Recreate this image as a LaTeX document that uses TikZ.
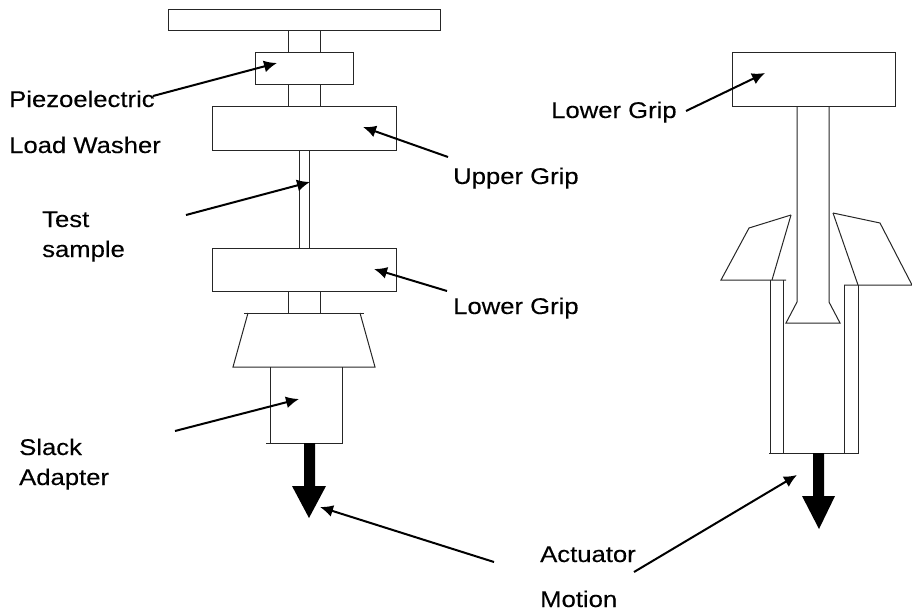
\documentclass[tikz,border=0pt]{standalone}
\usepackage{fontspec}
\usetikzlibrary{arrows.meta}
\setmainfont[FakeStretch=1.13,FakeBold=0.25]{Liberation Sans}
\begin{document}
\begin{tikzpicture}[x=1pt,y=-1pt,
  part/.style={draw=black!85,line width=1pt,inner sep=0pt,outer sep=0pt,fill=white},
  outline/.style={draw=black!85,line width=1pt,line join=miter},
  pointer/.style={draw=black,line width=2pt,-{Latex[length=13pt,width=12pt]},shorten >=0pt},
  motion/.style={fill=black,draw=none},
  lbl/.style={anchor=base west,inner sep=0pt,font=\fontsize{22.7}{26}\selectfont}]
\useasboundingbox (0,0) rectangle (912,615);
% left assembly
\node[part,minimum width=32pt,minimum height=22pt] (neckA) at (304,42) {};
\node[part,minimum width=32pt,minimum height=22pt] (neckB) at (304,96) {};
\node[part,minimum width=32pt,minimum height=22pt] (neckC) at (304,302) {};
\node[part,minimum width=10pt,minimum height=98pt] (sample) at (304,199) {};
\node[part,minimum width=272pt,minimum height=21pt] (plate) at (304,20.5) {};
\node[part,minimum width=98pt,minimum height=32pt] (washer) at (304,69) {};
\node[part,minimum width=184pt,minimum height=43pt] (ugrip) at (304,128.5) {};
\node[part,minimum width=184pt,minimum height=43pt] (lgrip) at (304,269.5) {};
\draw[outline] (244,313) -- (364,313);
\draw[outline] (248,313) -- (233,367) -- (375,367) -- (360,313);
\draw[outline] (270,367) -- (270,443);
\draw[outline] (342,367) -- (342,443) -- (266,443);
\fill[motion] (304,443) -- (315,443) -- (315,486) -- (326,486) -- (309,518) -- (292,486) -- (304,486) -- cycle;
% right assembly
\node[part,minimum width=163pt,minimum height=54pt] (rgrip) at (813.5,80) {};
\draw[outline] (797,107) -- (797,302) -- (786,323) -- (840,323) -- (829,302) -- (829,107);
\draw[outline] (791,215) -- (749,228) -- (721,280) -- (786,280);
\draw[outline] (791,215) -- (772,280);
\draw[outline] (833,213) -- (880,223) -- (912,285) -- (844,285);
\draw[outline] (833,213) -- (858,285);
\draw[outline] (770,280) -- (770,453);
\draw[outline] (783,280) -- (783,453);
\draw[outline] (844,285) -- (844,453);
\draw[outline] (858,285) -- (858,453);
\draw[outline] (769,453) -- (859,453);
\fill[motion] (813,453) -- (824,453) -- (824,496) -- (835,496) -- (819,529) -- (802,496) -- (813,496) -- cycle;
% labels
\node[lbl] (piezo) at (9,107) {Piezoelectric};
\node[lbl] (washerlbl) at (9,153) {Load Washer};
\node[lbl] (testlbl) at (42,227) {Test};
\node[lbl] (samplelbl) at (42,257) {sample};
\node[lbl] (uplbl) at (453,184) {Upper Grip};
\node[lbl] (lowlbl) at (453,314) {Lower Grip};
\node[lbl] (slacklbl) at (19,455) {Slack};
\node[lbl] (adapterlbl) at (19,485) {Adapter};
\node[lbl] (actlbl) at (540,562) {Actuator};
\node[lbl] (motlbl) at (540,607) {Motion};
\node[lbl] (rlowlbl) at (551,118) {Lower Grip};
% pointers
\coordinate (p1a) at (153,96);   \coordinate (p1b) at (277,63);
\coordinate (p2a) at (448,157);  \coordinate (p2b) at (363,127);
\coordinate (p3a) at (186,215);  \coordinate (p3b) at (310,182);
\coordinate (p4a) at (447,291);  \coordinate (p4b) at (374,269);
\coordinate (p5a) at (175,431);  \coordinate (p5b) at (299,399);
\coordinate (p6a) at (494,562);  \coordinate (p6b) at (320,507);
\coordinate (p7a) at (634,572);  \coordinate (p7b) at (797,475);
\coordinate (p8a) at (686,111);  \coordinate (p8b) at (765,73);
\foreach \n in {1,...,8} \draw[pointer] (p\n a) -- (p\n b);
\end{tikzpicture}
\end{document}
